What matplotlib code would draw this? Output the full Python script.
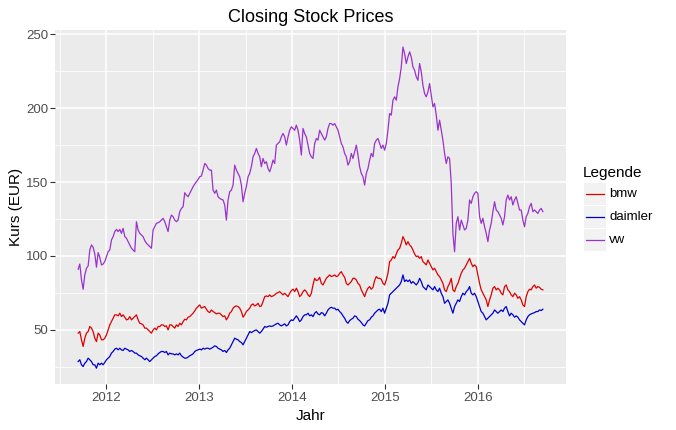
import numpy as np
import pandas as pd
import matplotlib
matplotlib.use('Agg')
import matplotlib.pyplot as plt
import matplotlib.dates as mdates
from matplotlib.lines import Line2D
from matplotlib.patches import Rectangle


# closing prices in EUR (roughly one value per week)
bmw = [
    47.8, 48.9, 43.3, 38.8, 44.4, 47.8, 48.9, 52.3, 51.2, 48.9,
    44.4, 42.1, 47.8, 46.6, 43.3, 43.3, 44.4, 46.6, 50.0, 53.4,
    55.6, 57.9, 60.2, 60.2, 59.5, 61.3, 59.0, 60.2, 58.6, 56.8,
    57.2, 59.0, 56.8, 57.9, 59.0, 60.2, 56.8, 54.5, 54.1, 53.4,
    51.2, 51.2, 50.0, 48.9, 47.8, 50.0, 51.2, 50.0, 52.3, 52.3,
    53.4, 53.4, 52.3, 52.7, 50.0, 53.4, 53.4, 52.3, 51.2, 53.4,
    52.3, 54.5, 53.4, 55.6, 57.2, 56.8, 58.6, 59.0, 60.2, 61.3,
    62.9, 64.7, 65.8, 66.9, 64.7, 65.3, 65.8, 64.0, 62.4, 61.7,
    63.5, 62.4, 61.7, 60.8, 61.3, 61.3, 60.2, 59.0, 59.5, 56.8,
    58.6, 61.3, 62.4, 64.7, 65.8, 66.2, 65.8, 64.7, 62.4, 58.6,
    60.2, 62.4, 63.5, 64.7, 66.9, 67.6, 66.2, 66.9, 68.0, 65.8,
    66.2, 69.2, 72.5, 73.0, 72.5, 73.7, 72.5, 73.0, 73.7, 74.8,
    75.2, 75.9, 74.8, 73.7, 74.8, 73.7, 72.5, 74.8, 76.6, 77.5,
    75.9, 78.2, 75.9, 72.5, 73.7, 75.9, 77.1, 75.9, 73.7, 72.5,
    74.8, 80.4, 84.9, 83.4, 83.8, 85.6, 81.5, 80.4, 82.7, 84.9,
    86.1, 87.2, 86.1, 86.5, 87.2, 86.1, 86.5, 88.3, 89.4, 87.2,
    85.6, 81.5, 80.4, 81.5, 82.7, 84.9, 84.9, 83.8, 81.5, 80.4,
    77.1, 74.8, 72.5, 75.9, 78.2, 79.3, 77.5, 78.8, 83.4, 86.1,
    84.9, 84.9, 84.3, 81.5, 80.4, 83.8, 88.3, 96.2, 97.3, 99.6,
    98.4, 101.4, 104.1, 105.2, 108.6, 113.1, 110.8, 107.5, 109.7, 107.5,
    106.3, 104.1, 101.4, 99.6, 100.0, 98.4, 99.6, 96.2, 95.1, 94.0,
    97.3, 95.1, 92.8, 90.6, 91.7, 89.4, 87.2, 86.1, 83.8, 81.5,
    77.1, 75.9, 79.3, 81.5, 84.9, 77.1, 75.9, 79.3, 81.5, 84.9,
    88.3, 90.6, 91.7, 94.0, 96.2, 98.4, 95.1, 92.8, 94.0, 92.8,
    87.2, 81.5, 77.1, 74.8, 72.5, 70.3, 65.8, 70.3, 73.7, 78.2,
    79.3, 77.1, 78.2, 77.1, 74.8, 73.7, 79.3, 80.4, 77.1, 75.9,
    73.7, 72.5, 74.8, 73.7, 71.4, 72.5, 70.3, 66.9, 65.8, 72.5,
    75.9, 77.5, 77.1, 79.3, 80.4, 78.2, 79.3, 78.8, 77.5, 77.1,
]

daimler = [
    28.6, 29.8, 26.4, 25.2, 27.5, 28.6, 30.9, 29.8, 28.6, 26.4,
    26.4, 24.1, 27.5, 26.4, 27.5, 26.4, 28.0, 29.8, 30.9, 32.0,
    34.3, 35.4, 37.0, 37.6, 36.5, 37.6, 36.5, 36.1, 37.6, 37.0,
    36.5, 35.4, 36.1, 35.4, 34.3, 34.3, 33.1, 32.5, 32.0, 30.9,
    29.8, 30.9, 29.8, 28.6, 29.8, 30.9, 32.0, 32.5, 33.8, 34.7,
    35.4, 35.4, 34.7, 35.4, 33.1, 34.3, 33.8, 33.8, 33.1, 33.8,
    33.1, 34.3, 32.5, 31.6, 30.9, 30.9, 31.6, 32.5, 33.1, 33.8,
    35.4, 36.1, 36.5, 37.0, 36.5, 37.6, 37.0, 37.6, 37.6, 37.0,
    37.6, 38.3, 39.2, 38.8, 37.6, 37.0, 36.5, 35.4, 36.1, 34.7,
    36.5, 37.6, 39.9, 42.1, 44.4, 43.7, 43.3, 42.1, 41.5, 39.9,
    42.1, 44.4, 46.6, 48.9, 48.2, 48.9, 49.6, 50.0, 48.9, 47.8,
    48.9, 50.5, 52.3, 51.8, 52.3, 52.7, 52.3, 52.7, 53.4, 54.1,
    54.5, 53.4, 52.7, 53.4, 54.1, 52.7, 53.4, 55.6, 56.8, 56.3,
    57.9, 59.5, 57.9, 55.6, 56.8, 59.0, 60.2, 60.2, 61.3, 59.5,
    60.2, 59.0, 61.3, 62.4, 60.8, 60.2, 61.7, 61.3, 59.5, 61.3,
    63.5, 64.7, 65.3, 64.7, 64.7, 63.5, 64.0, 62.4, 61.3, 59.5,
    57.9, 55.6, 54.5, 56.3, 57.2, 57.9, 59.5, 59.0, 57.2, 56.3,
    55.0, 53.4, 52.7, 54.5, 56.3, 56.8, 58.6, 59.5, 61.3, 62.4,
    63.5, 64.0, 62.4, 64.7, 61.3, 64.7, 68.0, 73.7, 74.8, 75.9,
    77.1, 78.2, 79.3, 80.4, 82.7, 87.2, 82.7, 83.8, 82.7, 83.8,
    81.5, 82.7, 81.5, 80.4, 82.0, 84.9, 82.7, 79.3, 78.2, 77.1,
    80.4, 79.3, 78.2, 77.1, 79.3, 77.1, 75.9, 78.2, 74.8, 72.5,
    68.0, 69.2, 70.3, 68.0, 64.7, 61.3, 65.8, 68.0, 70.3, 69.2,
    72.5, 74.8, 73.7, 75.9, 77.1, 79.3, 74.8, 73.7, 74.8, 72.5,
    69.2, 65.8, 62.4, 61.3, 59.0, 56.8, 57.9, 59.0, 60.2, 61.3,
    63.5, 62.4, 61.3, 62.4, 63.5, 62.4, 64.7, 65.8, 62.4, 59.5,
    61.3, 60.2, 58.6, 59.5, 58.6, 56.8, 55.6, 54.5, 53.4, 56.8,
    59.0, 60.2, 60.8, 61.3, 61.7, 62.4, 62.4, 63.5, 63.1, 64.0,
]

vw = [
    91.0, 94.6, 83.8, 77.5, 87.2, 91.7, 93.3, 104.1, 107.5, 105.9,
    101.4, 92.4, 102.3, 99.1, 93.9, 94.6, 96.2, 99.6, 102.9, 104.1,
    110.8, 113.1, 116.5, 118.0, 116.5, 118.0, 115.3, 118.7, 113.1, 112.0,
    109.7, 107.5, 105.2, 104.1, 102.9, 123.2, 117.6, 115.3, 114.2, 113.1,
    110.4, 108.6, 107.5, 106.3, 105.2, 117.6, 119.8, 122.1, 122.5, 123.2,
    124.3, 125.5, 123.2, 119.8, 116.5, 124.3, 127.7, 126.6, 124.3, 123.2,
    124.3, 130.0, 132.2, 133.3, 142.8, 141.2, 140.1, 142.4, 144.6, 146.9,
    148.7, 150.2, 151.8, 153.6, 154.1, 158.1, 162.6, 161.5, 159.2, 158.1,
    158.1, 144.6, 142.4, 144.6, 140.1, 139.0, 138.3, 137.9, 134.5, 124.3,
    137.9, 143.5, 144.6, 148.0, 161.5, 158.1, 155.9, 153.6, 148.0, 136.7,
    142.4, 146.9, 153.6, 155.9, 160.4, 167.1, 169.4, 172.8, 169.4, 167.1,
    160.4, 166.0, 162.6, 163.8, 159.2, 157.0, 160.4, 164.9, 162.6, 175.0,
    176.1, 177.3, 180.6, 182.9, 180.6, 175.0, 180.6, 185.1, 187.4, 186.3,
    185.1, 188.5, 185.1, 178.4, 168.3, 186.3, 182.9, 180.6, 175.0, 169.4,
    167.1, 166.0, 176.1, 179.5, 178.4, 185.1, 182.9, 180.6, 178.4, 180.6,
    186.3, 189.6, 189.6, 188.5, 189.6, 187.4, 185.1, 180.6, 176.1, 173.9,
    169.4, 167.1, 161.5, 163.8, 169.4, 166.0, 170.5, 175.0, 168.3, 160.4,
    155.9, 153.6, 148.0, 155.9, 159.2, 164.9, 169.4, 167.1, 176.1, 178.4,
    179.5, 176.1, 172.8, 175.0, 171.6, 176.1, 185.1, 196.4, 195.3, 205.4,
    207.7, 205.4, 214.4, 220.0, 227.9, 241.4, 236.9, 230.2, 234.7, 238.1,
    234.7, 227.9, 225.7, 221.2, 218.9, 230.2, 224.6, 215.5, 209.9, 207.7,
    211.0, 216.7, 208.8, 200.9, 203.2, 195.3, 185.1, 191.9, 185.1, 178.4,
    169.4, 162.6, 167.1, 166.0, 149.1, 115.3, 102.9, 122.1, 126.6, 117.6,
    124.3, 121.0, 117.6, 118.7, 124.3, 137.9, 135.6, 140.1, 142.4, 143.5,
    142.4, 126.6, 122.1, 125.5, 119.8, 115.3, 109.7, 117.6, 122.1, 130.0,
    136.7, 131.1, 130.0, 127.7, 125.5, 121.0, 126.6, 137.9, 141.2, 137.9,
    140.1, 134.5, 137.9, 140.1, 135.6, 131.1, 131.1, 124.3, 119.8, 126.6,
    128.8, 133.3, 135.6, 130.0, 131.1, 130.0, 128.8, 131.1, 132.2, 130.0,
]

dates = pd.date_range('2011-09-12', '2016-09-12', periods=len(vw))

series = ['bmw', 'daimler', 'vw']
colors = {'bmw': '#DD0000', 'daimler': '#0000CD', 'vw': '#9A32CD'}
values = {'bmw': bmw, 'daimler': daimler, 'vw': vw}

W, H = 676, 430

plt.rcParams['font.family'] = ['Liberation Sans', 'DejaVu Sans']

fig = plt.figure(figsize=(W / 100, H / 100), dpi=100)
fig.patch.set_facecolor('white')

# panel
ax = fig.add_axes([55 / W, 1 - 384 / H, 511 / W, 354 / H])
ax.set_facecolor('#EBEBEB')
for spine in ax.spines.values():
    spine.set_visible(False)

for name in series:
    ax.plot(dates, values[name], color=colors[name], linewidth=0.9, zorder=3)

ax.set_xlim(pd.Timestamp('2011-06-13'), pd.Timestamp('2016-12-12'))
ax.set_ylim(13.4, 252.9)

ax.xaxis.set_major_locator(mdates.YearLocator())
ax.xaxis.set_major_formatter(mdates.DateFormatter('%Y'))
ax.xaxis.set_minor_locator(mdates.MonthLocator(bymonth=7))
ax.set_yticks([50, 100, 150, 200, 250])
ax.set_yticks([25, 75, 125, 175, 225], minor=True)

ax.grid(True, which='major', color='white', linewidth=1.1, zorder=1)
ax.grid(True, which='minor', color='white', linewidth=0.55, zorder=1)
ax.set_axisbelow(True)

ax.tick_params(which='major', length=3.3, width=0.8, color='#333333',
               labelcolor='#4D4D4D', labelsize=9.5)
ax.tick_params(axis='x', which='major', pad=2.5)
ax.tick_params(axis='y', which='major', pad=1.5)
ax.tick_params(which='minor', length=0)

# titles
fig.text(310.5 / W, 1 - 22.5 / H, 'Closing Stock Prices', ha='center',
         va='baseline', fontsize=13, color='black')
fig.text(310.5 / W, 1 - 420 / H, 'Jahr', ha='center', va='baseline',
         fontsize=11, color='black')
fig.text(16 / W, 1 - 207 / H, 'Kurs (EUR)', ha='center', va='center',
         rotation=90, fontsize=11, color='black')

# legend, ggplot style
fig.text(583 / W, 1 - 177 / H, 'Legende', ha='left', va='baseline',
         fontsize=11, color='black')
key_top = 183
key_h = 23
for i, name in enumerate(series):
    top = key_top + i * key_h
    fig.patches.append(Rectangle((584 / W, 1 - (top + key_h - 1) / H),
                                 22 / W, (key_h - 1) / H,
                                 transform=fig.transFigure,
                                 facecolor='#F2F2F2', edgecolor='none'))
    yc = 1 - (top + key_h / 2 - 0.5) / H
    fig.lines.append(Line2D([586 / W, 604 / W], [yc, yc],
                            transform=fig.transFigure,
                            color=colors[name], linewidth=0.9))
    fig.text(609 / W, yc, name, ha='left', va='center',
             fontsize=9.5, color='black')

fig.savefig('out.png', dpi=100)
